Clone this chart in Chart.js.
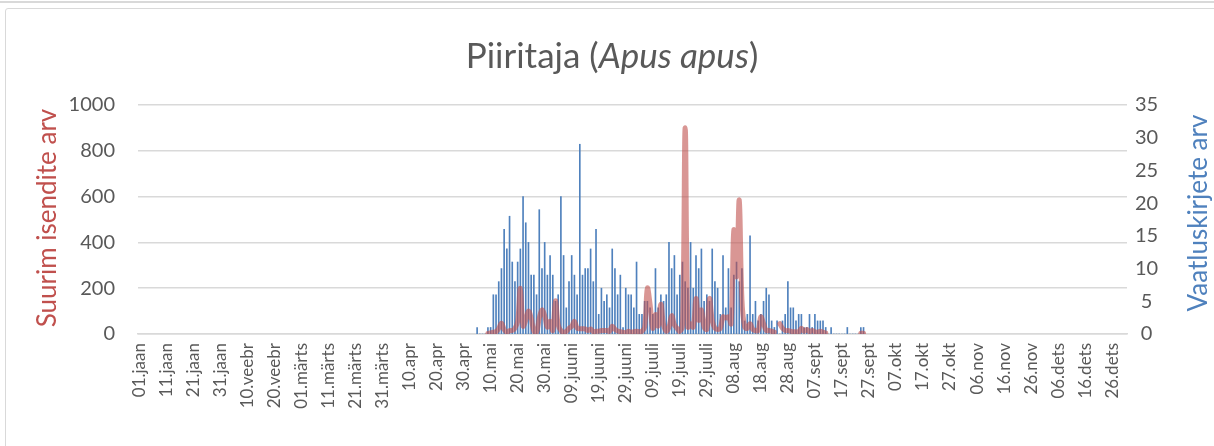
<!DOCTYPE html>
<html>
<head>
<meta charset="utf-8">
<script src="https://cdn.jsdelivr.net/npm/chart.js@4"></script>
<style>
  html, body { margin: 0; padding: 0; background: #ffffff; }
  #wrap { position: relative; width: 1214px; height: 446px; overflow: hidden; font-family: Lato, "Open Sans", sans-serif; }
  #topline { position: absolute; left: 0; top: 1px; width: 1214px; height: 2px; background: #d9d9d9; }
  #frame { position: absolute; left: 5px; top: 8px; width: 1300px; height: 500px; border: 1px solid #d9d9d9; border-radius: 3px; }
  #c { position: absolute; left: 0; top: 0; }
  #title { position: absolute; left: 0; top: 34px; width: 1224px; text-align: center; font-size: 35px; line-height: 40px; color: #595959; }
  .ytitle { position: absolute; width: 320px; height: 30px; line-height: 30px; text-align: center; font-size: 26px; transform: rotate(-90deg); transform-origin: 50% 50%; white-space: nowrap; }
  #yl { left: -114px; top: 203px; color: #C0504D; }
  #yr { left: 1037px; top: 198px; color: #4F81BD; }
</style>
</head>
<body>
<div id="wrap">
  <div id="topline"></div>
  <div id="frame"></div>
  <canvas id="c" width="1214" height="446"></canvas>
  <div id="title">Piiritaja (<i>Apus apus</i>)</div>
  <div id="yl" class="ytitle">Suurim isendite arv</div>
  <div id="yr" class="ytitle">Vaatluskirjete arv</div>
</div>
<script>
// ---- categories (leap year, daily) ----
const monthNames = ['jaan','veebr','märts','apr','mai','juuni','juuli','aug','sept','okt','nov','dets'];
const monthDays  = [31, 29, 31, 30, 31, 30, 31, 31, 30, 31, 30, 31];
const tickEvery = 10;

// ---- series: number of records (right axis), from day index recordsStart ----
const recordsStart = 125;
const records = [
  1,0,0,0,
  1,1,6,6,8,10,16,13,18,11,
  8,11,13,21,17,14,9,9,6,19,
  10,14,9,12,9,5,6,21,12,4,
  8,12,9,6,29,9,10,10,13,8,
  16,3,7,5,6,4,13,10,6,9,
  1,7,6,6,4,11,3,3,5,5,
  4,3,10,4,6,5,6,14,10,12,
  6,9,11,8,7,14,7,12,10,13,
  5,6,5,13,8,7,3,12,4,10,
  4,9,11,8,10,2,3,15,3,5,
  2,3,5,7,6,2,1,2,0,2,
  3,8,4,4,2,3,3,1,1,3,
  1,3,2,2,2,1,0,1,0,0,
  0,0,0,1,0,0,0,0,1,1
];

// ---- series: max number of individuals (left axis), from day index maxStart ----
const maxStart = 129;
const maxCount = [
  2,5,8,10,25,47,20,8,15,15,
  25,55,200,35,60,100,70,12,8,70,
  105,80,30,55,15,145,40,15,7,12,
  25,34,55,26,23,23,22,15,22,10,
  12,12,15,15,15,12,34,20,13,10,
  8,5,12,8,10,12,10,12,30,200,
  130,25,85,35,130,40,12,30,80,40,
  25,12,40,900,30,45,30,155,60,105,
  30,20,155,60,25,20,25,75,70,75,
  45,454,250,585,150,30,25,45,20,15,
  15,75,45,15,15,12,8,null,45,25,
  15,15,12,10,10,8,25,12,20,10,
  15,10,8,12,8,5,null,null,null,null,
  null,null,null,null,null,null,null,null,3,3
];

// ---- axis ticks ----
const leftTicks  = { min: 0, max: 1000, step: 200 };
const rightTicks = { min: 0, max: 35, step: 5 };

// build category labels
const labels = [];
monthNames.forEach((m, mi) => {
  for (let d = 1; d <= monthDays[mi]; d++) {
    labels.push(String(d).padStart(2, '0') + '.' + m);
  }
});
const nDays = labels.length;
const recFull = new Array(nDays).fill(null);
records.forEach((v, i) => { recFull[recordsStart + i] = v; });
const maxFull = new Array(nDays).fill(null);
maxCount.forEach((v, i) => { maxFull[maxStart + i] = v; });

const grey = '#595959';
Chart.defaults.font.family = 'Lato, "Open Sans", sans-serif';
Chart.defaults.color = grey;

new Chart(document.getElementById('c'), {
  type: 'bar',
  data: {
    labels: labels,
    datasets: [
      {
        type: 'line',
        label: 'Suurim isendite arv',
        data: maxFull,
        yAxisID: 'y',
        borderColor: 'rgba(192,80,77,0.6)',
        backgroundColor: 'rgba(192,80,77,0.6)',
        borderWidth: 5,
        pointRadius: 0,
        pointHoverRadius: 0,
        tension: 0.4,
        spanGaps: false,
        borderCapStyle: 'round',
        borderJoinStyle: 'round',
        order: 1
      },
      {
        type: 'bar',
        label: 'Vaatluskirjete arv',
        data: recFull,
        yAxisID: 'y1',
        backgroundColor: '#4F81BD',
        barThickness: 1,
        order: 2
      }
    ]
  },
  options: {
    responsive: false,
    animation: false,
    devicePixelRatio: 1,
    layout: { padding: { top: 105, left: 0, right: 0, bottom: 0 } },
    plugins: { legend: { display: false }, title: { display: false }, tooltip: { enabled: false } },
    scales: {
      x: {
        offset: true,
        grid: { display: false, drawTicks: false },
        border: { display: true, color: '#d9d9d9', width: 1.5 },
        ticks: {
          autoSkip: false,
          minRotation: 90,
          maxRotation: 90,
          padding: 9,
          font: { size: 17 },
          color: grey,
          callback: function (val, idx) { return idx % tickEvery === 0 ? labels[idx] : ''; }
        },
        afterFit: function (s) { s.height = 446 - 334; }
      },
      y: {
        position: 'left',
        min: leftTicks.min, max: leftTicks.max,
        grid: { color: '#d9d9d9', lineWidth: 1.5, drawTicks: false },
        border: { display: false },
        ticks: { stepSize: leftTicks.step, padding: 23, font: { size: 20 }, color: grey,
                 callback: function (v) { return String(v); } },
        afterFit: function (s) { s.width = 138; }
      },
      y1: {
        position: 'right',
        min: rightTicks.min, max: rightTicks.max,
        grid: { display: false, drawTicks: false },
        border: { display: false },
        ticks: { stepSize: rightTicks.step, padding: 8, font: { size: 20 }, color: grey, crossAlign: 'center',
                 callback: function (v) { return String(v); } },
        afterFit: function (s) { s.width = 1214 - 1127; }
      }
    }
  }
});
</script>
</body>
</html>
